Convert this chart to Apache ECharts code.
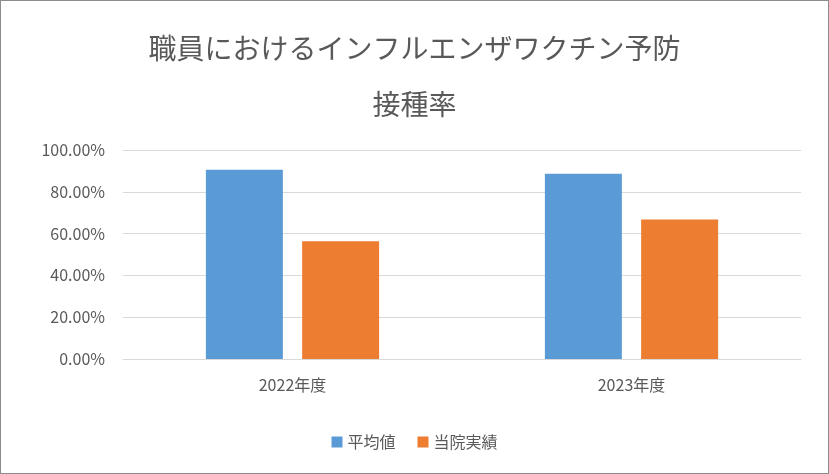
<!DOCTYPE html>
<html>
<head>
<meta charset="utf-8">
<script src="https://cdn.jsdelivr.net/npm/echarts@6/dist/echarts.min.js"></script>
<style>
html,body{margin:0;padding:0;background:#fff;}
#main{width:827px;height:472px;border:1px solid #8c8c8c;}
</style>
</head>
<body>
<div id="main"></div>
<script>
var categories = ['2022年度', '2023年度'];
var avgValues = [0.905, 0.886];
var ownValues = [0.563, 0.667];
var seriesNames = ['平均値', '当院実績'];

var myChart = echarts.init(document.getElementById('main'));
var font = '"Noto Sans CJK JP", sans-serif';
var option = {
    textStyle: {fontFamily: font},
    title: {
        text: '職員におけるインフルエンザワクチン予防\n接種率',
        left: 'center',
        top: 14,
        textStyle: {fontSize: 28, fontWeight: 'normal', color: '#595959', fontFamily: font, lineHeight: 56}
    },
    legend: {
        bottom: 18,
        itemWidth: 11,
        itemHeight: 11,
        icon: 'rect',
        itemGap: 22,
        textStyle: {fontSize: 16, color: '#595959', fontFamily: font},
        data: seriesNames
    },
    grid: {left: 122, right: 27, top: 149, bottom: 114},
    xAxis: {
        type: 'category',
        data: categories,
        axisTick: {show: false},
        axisLine: {lineStyle: {color: '#d9d9d9'}},
        axisLabel: {fontSize: 16, color: '#595959', margin: 18}
    },
    yAxis: {
        type: 'value',
        min: 0,
        max: 1,
        interval: 0.2,
        axisLine: {show: false},
        axisTick: {show: false},
        splitLine: {lineStyle: {color: '#d9d9d9'}},
        axisLabel: {
            fontSize: 16, color: '#595959', margin: 18,
            formatter: function (v) { return (v * 100).toFixed(2) + '%'; }
        }
    },
    series: [
        {name: seriesNames[0], type: 'bar', data: avgValues, barWidth: 77, barGap: '25%', itemStyle: {color: '#5b9bd5'}},
        {name: seriesNames[1], type: 'bar', data: ownValues, barWidth: 77, itemStyle: {color: '#ed7d31'}}
    ]
};
myChart.setOption(option);
</script>
</body>
</html>
